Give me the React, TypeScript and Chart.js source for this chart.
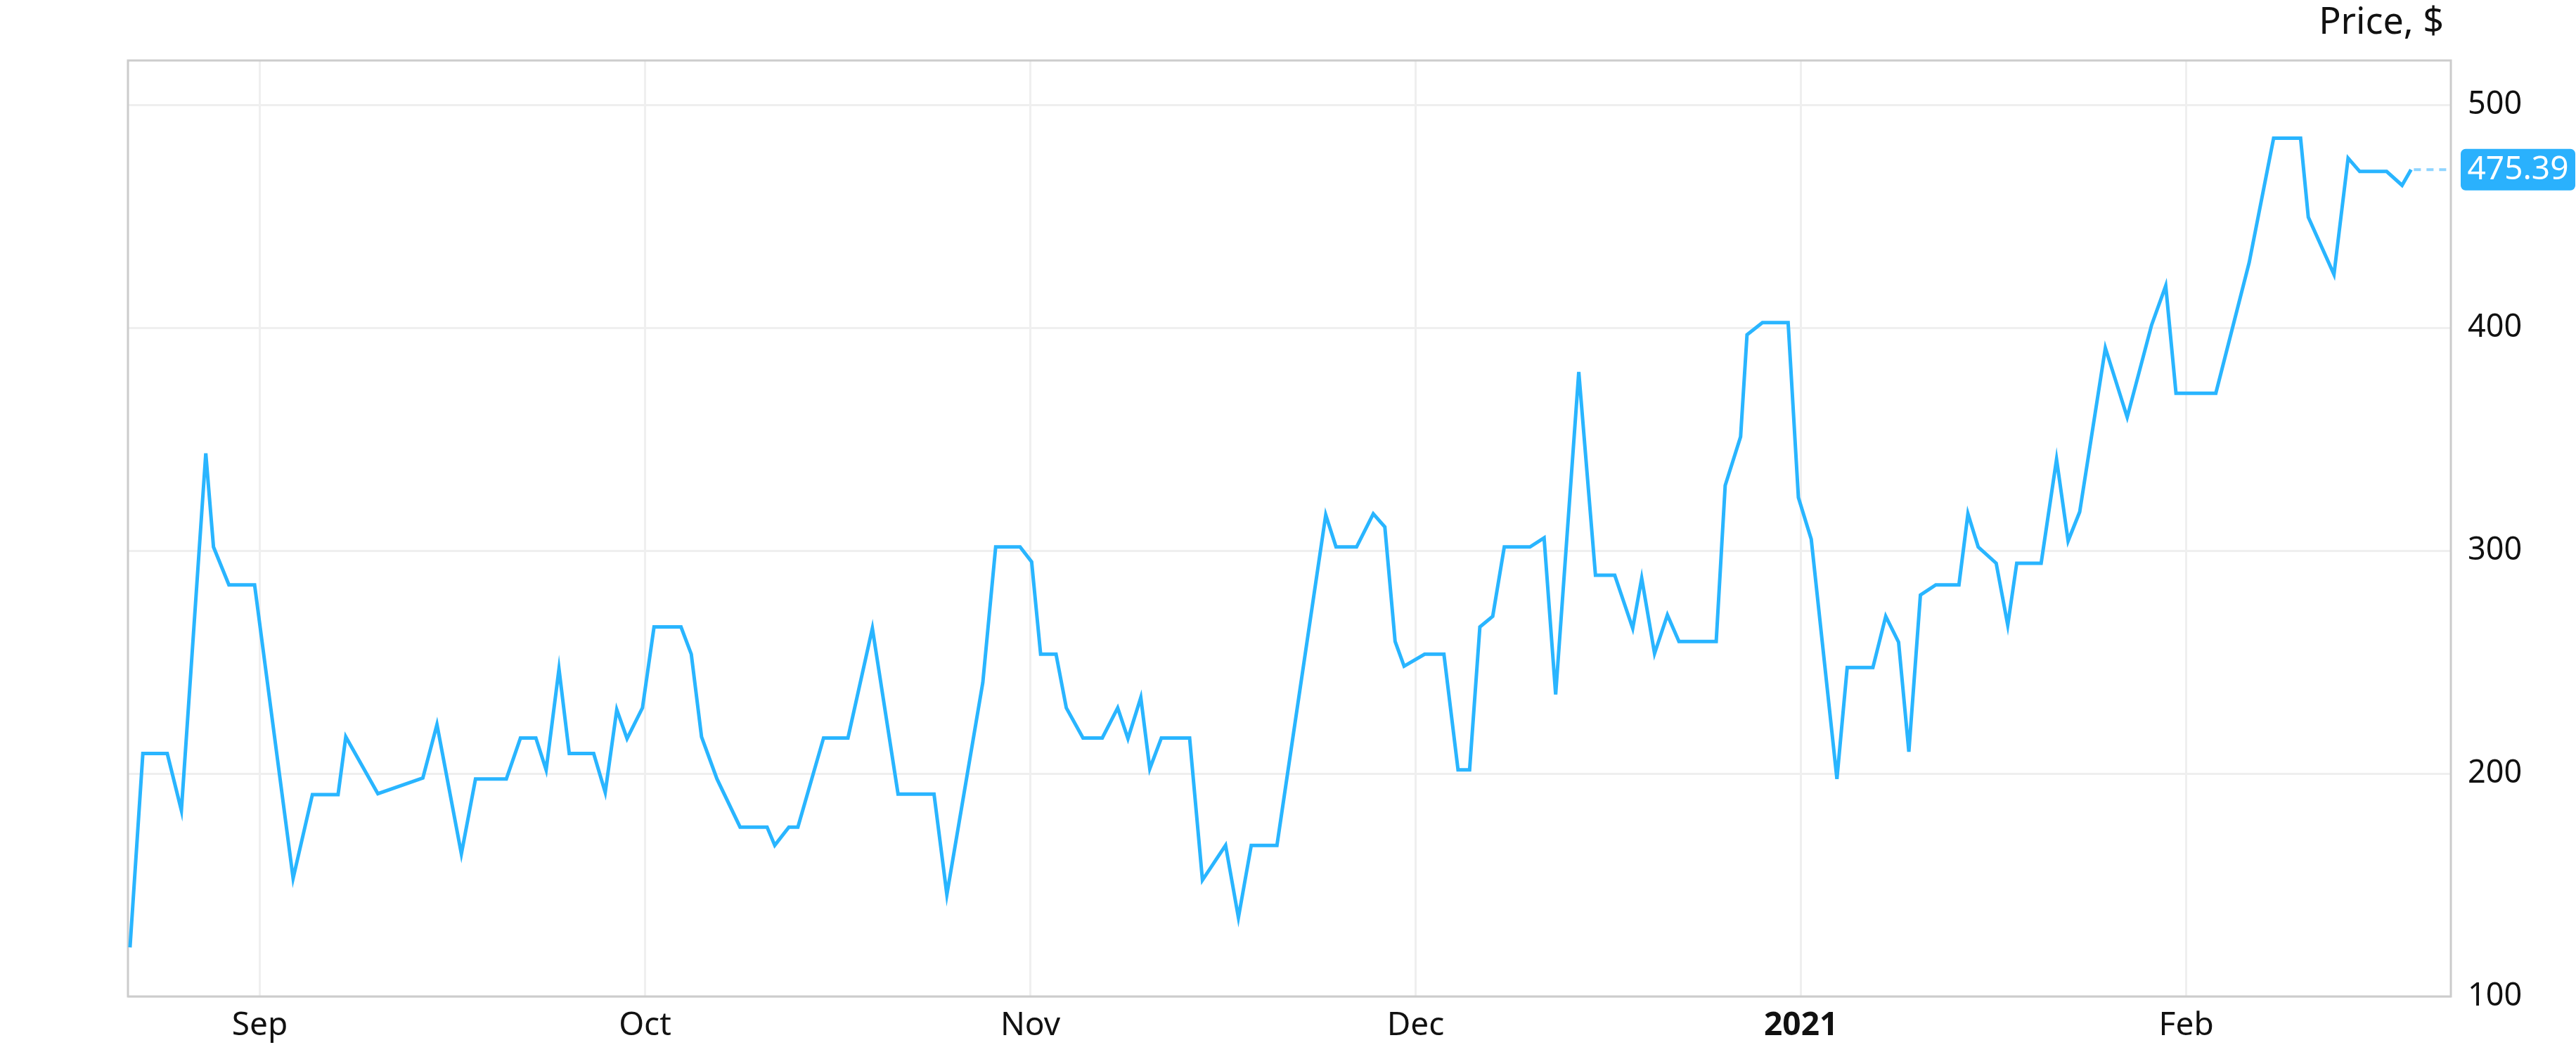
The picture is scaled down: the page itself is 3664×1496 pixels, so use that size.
import React, { useEffect, useRef } from 'react';
import { Chart, registerables } from 'chart.js';

Chart.register(...registerables);

// x positions in days from 1 Sep 2020 (each month tick = 30 units on this axis)
const monthTicks = [0, 30, 60, 90, 120, 150];
const monthLabels = ['Sep', 'Oct', 'Nov', 'Dec', '2021', 'Feb'];
const yTicks = [100, 200, 300, 400, 500];
const lastPriceLabel = '475.39';

const dayPositions = [
  -10.1, -9.1, -7.2, -6.1, -4.2, -3.6, -2.4, -0.4, 2.6, 4.1,
  6.1, 6.7, 9.2, 12.7, 13.8, 15.7, 16.8, 19.2, 20.3, 21.5,
  22.3, 23.3, 24.1, 26.0, 26.9, 27.8, 28.6, 29.8, 30.7, 32.8,
  33.6, 34.4, 35.6, 37.4, 39.5, 40.1, 41.2, 41.9, 43.9, 45.8,
  47.7, 49.7, 52.5, 53.5, 56.3, 57.3, 59.2, 60.1, 60.8, 62.0,
  62.8, 64.1, 65.6, 66.8, 67.6, 68.6, 69.3, 70.2, 72.4, 73.4,
  75.2, 76.2, 77.2, 79.2, 83.0, 83.8, 85.4, 86.7, 87.6, 88.4,
  89.1, 90.7, 92.2, 93.3, 94.2, 95.0, 96.0, 96.9, 98.9, 100.0,
  100.9, 102.7, 104.0, 105.5, 106.9, 107.6, 108.6, 109.6, 110.5, 113.4,
  114.1, 115.3, 115.8, 117.0, 119.0, 119.8, 120.8, 122.8, 123.6, 125.6,
  126.6, 127.6, 128.4, 129.3, 130.5, 132.3, 133.0, 133.8, 135.2, 136.1,
  136.8, 138.7, 139.9, 140.8, 141.7, 143.7, 145.4, 147.3, 148.4, 149.2,
  152.3, 154.9, 156.8, 158.9, 159.5, 161.5, 162.6, 163.5, 165.6, 166.8,
  167.5,
];

const prices = [
  122, 209, 209, 183.5, 343.7, 301.7, 284.7, 284.7, 153, 190.6,
  190.6, 216.5, 191, 198, 222, 164, 197.6, 197.6, 216, 216,
  201.7, 247, 209, 209, 191.6, 228.7, 215.7, 229.5, 265.8, 265.8,
  253.6, 216.5, 197.6, 176, 176, 167.8, 176, 176, 216, 216,
  265.2, 190.8, 190.8, 145.7, 240.9, 301.7, 301.7, 295, 253.6, 253.6,
  229.5, 216, 216, 229.5, 215.7, 234.1, 202.2, 216, 216, 152.2,
  167.8, 135.4, 167.8, 167.8, 316.1, 301.7, 301.7, 316.6, 310.7, 259.3,
  248.2, 253.6, 253.6, 201.7, 201.7, 265.8, 270.6, 301.7, 301.7, 305.8,
  235.5, 380.2, 289, 289, 265.2, 287.7, 253.9, 271.2, 259.3, 259.3,
  329.3, 351.2, 396.9, 402.4, 402.4, 323.9, 305.2, 197.6, 247.6, 247.6,
  270.6, 259, 209.8, 280.1, 284.7, 284.7, 316.6, 301.7, 294.4, 266.6,
  294.4, 294.4, 341, 304.4, 317.4, 391, 359.9, 401.3, 418.9, 370.7,
  370.7, 429.4, 485.1, 485.1, 449.7, 424, 476.2, 470.2, 470.2, 464,
  471,
];

const LINE_COLOR = '#29b5ff';
const BADGE_COLOR = '#2ab1fd';
const FONT = '"Noto Sans", "Open Sans", sans-serif';

const overlayPlugin = {
  id: 'overlay',
  beforeDatasetsDraw(chart: any) {
    const { ctx, chartArea: a } = chart;
    ctx.save();
    ctx.strokeStyle = '#cccccc';
    ctx.lineWidth = 3;
    ctx.strokeRect(a.left, a.top, a.right - a.left, a.bottom - a.top);
    ctx.restore();
  },
  afterDatasetsDraw(chart: any) {
    const { ctx, chartArea: a, scales } = chart;
    const last = prices.length - 1;
    const lx = scales.x.getPixelForValue(dayPositions[last]);
    const ly = scales.y.getPixelForValue(prices[last]);
    ctx.save();
    // dotted continuation line
    ctx.setLineDash([10, 8]);
    ctx.strokeStyle = '#8fd4ff';
    ctx.lineWidth = 4;
    ctx.beginPath();
    ctx.moveTo(lx + 4, ly);
    ctx.lineTo(a.right, ly);
    ctx.stroke();
    ctx.setLineDash([]);
    // badge
    const bx = a.right + 14;
    const bw = 163;
    const bh = 59;
    ctx.fillStyle = BADGE_COLOR;
    ctx.beginPath();
    (ctx as any).roundRect(bx, ly - bh / 2, bw, bh, 7);
    ctx.fill();
    ctx.fillStyle = '#ffffff';
    ctx.font = `46px ${FONT}`;
    ctx.textAlign = 'center';
    ctx.textBaseline = 'middle';
    ctx.fillText(lastPriceLabel, bx + bw / 2, ly + 1);
    // axis title
    ctx.fillStyle = '#111111';
    ctx.font = `52px ${FONT}`;
    ctx.textAlign = 'right';
    ctx.textBaseline = 'alphabetic';
    ctx.fillText('Price, $', 3476, 48);
    ctx.restore();
  },
};

export default function App() {
  const canvasRef = useRef<HTMLCanvasElement | null>(null);

  useEffect(() => {
    document.body.style.margin = '0';
    const canvas = canvasRef.current;
    if (!canvas) return;
    const data = dayPositions.map((x, i) => ({ x, y: prices[i] }));
    const chart = new Chart(canvas, {
      type: 'line',
      data: {
        datasets: [
          {
            data,
            borderColor: LINE_COLOR,
            borderWidth: 5,
            pointRadius: 0,
            tension: 0,
            fill: false,
            borderJoinStyle: 'miter',
          },
        ],
      },
      options: {
        animation: false,
        responsive: false,
        devicePixelRatio: 1,
        parsing: false as any,
        layout: { padding: { left: 182, top: 86, right: 0, bottom: 0 } },
        plugins: {
          legend: { display: false },
          tooltip: { enabled: false },
        },
        scales: {
          x: {
            type: 'linear',
            min: -10.26,
            max: 170.6,
            afterBuildTicks: (s: any) => {
              s.ticks = monthTicks.map((v) => ({ value: v }));
            },
            afterFit: (s: any) => {
              s.height = 79;
            },
            grid: { color: '#efefef', lineWidth: 3, drawTicks: false },
            border: { display: false },
            ticks: {
              autoSkip: false,
              maxRotation: 0,
              padding: 14,
              color: '#111111',
              font: (c: any) => ({
                family: FONT,
                size: 46,
                weight: c.tick && c.tick.value === 120 ? 'bold' : 'normal',
              }),
              callback: (v: any) => {
                const i = monthTicks.indexOf(Number(v));
                return i >= 0 ? monthLabels[i] : '';
              },
            },
          },
          y: {
            type: 'linear',
            position: 'right',
            min: 100,
            max: 520,
            afterBuildTicks: (s: any) => {
              s.ticks = yTicks.map((v) => ({ value: v }));
            },
            afterFit: (s: any) => {
              s.width = 178;
            },
            grid: { color: '#efefef', lineWidth: 3, drawTicks: false },
            border: { display: false },
            ticks: {
              padding: 24,
              color: '#111111',
              font: { family: FONT, size: 45 },
              callback: (v: any) => String(v),
            },
          },
        },
      },
      plugins: [overlayPlugin],
    } as any);
    return () => chart.destroy();
  }, []);

  return (
    <div style={{ width: 3664, height: 1496 }}>
      <canvas ref={canvasRef} width={3664} height={1496} style={{ display: 'block' }} />
    </div>
  );
}
